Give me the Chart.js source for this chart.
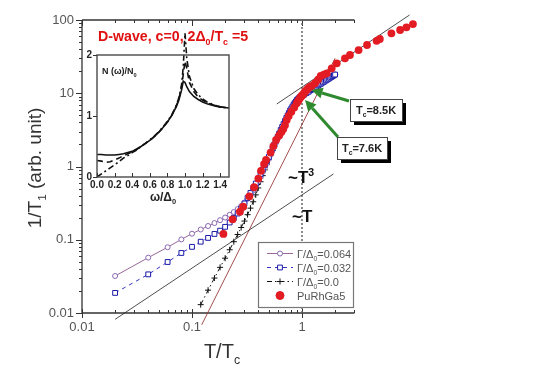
<!DOCTYPE html>
<html>
<head>
<meta charset="utf-8">
<script src="https://cdn.jsdelivr.net/npm/chart.js@4.4.1/dist/chart.umd.min.js"></script>
<style>
  html, body { margin: 0; padding: 0; background: #fff; }
  #wrap { position: relative; width: 545px; height: 391px; }
  #main { position: absolute; left: 0; top: 0; }
  #inset { position: absolute; left: 70px; top: 20px; }
</style>
</head>
<body>
<div id="wrap">
  <canvas id="main" width="545" height="391"></canvas>
  <canvas id="inset" width="170" height="190"></canvas>
</div>
<script>
// ---- main plot data: 1/T1 vs T/Tc ----
const tTheory = [0.02,0.04,0.06,0.08,0.10,0.12,0.14,0.16,0.18,0.20,
  0.22,0.24,0.26,0.28,0.30,0.32,0.34,0.36,0.38,0.40,
  0.42,0.44,0.46,0.48,0.50,0.52,0.54,0.56,0.58,0.60,
  0.62,0.64,0.66,0.68,0.70,0.72,0.74,0.76,0.78,0.80,
  0.82,0.84,0.86,0.88,0.90,0.92,0.94,0.96,0.98,1.00,
  1.05,1.10,1.15,1.20,1.25,1.30,1.35,1.40,1.45,1.50,
  1.55,1.60,1.65,1.70,1.75,1.80,1.85,1.90,1.95,2.00];

const rate064 = [0.032,0.057,0.079,0.101,0.121,0.138,0.154,0.169,0.185,0.201,
  0.219,0.239,0.262,0.289,0.322,0.362,0.41,0.468,0.54,0.625,
  0.725,0.84,0.97,1.11,1.27,1.45,1.65,1.87,2.11,2.37,
  2.65,2.95,3.26,3.59,3.95,4.33,4.71,5.1,5.5,5.9,
  6.3,6.7,7.07,7.43,7.78,8.1,8.4,8.68,8.93,9.15,
  9.55,10.0,10.4,10.9,11.3,11.8,12.2,12.7,13.1,13.5,
  14.0,14.4,14.9,15.3,15.7,16.2,16.6,17.0,17.5,17.9];

const rate032 = [0.0188,0.0337,0.0497,0.066,0.080,0.094,0.106,0.120,0.133,0.150,
  0.172,0.198,0.228,0.267,0.313,0.372,0.435,0.504,0.586,0.675,
  0.79,0.91,1.05,1.19,1.35,1.55,1.76,2.0,2.26,2.53,
  2.82,3.15,3.46,3.80,4.18,4.59,4.97,5.37,5.82,6.19,
  6.59,7.02,7.36,7.71,8.09,8.35,8.61,8.89,9.03,9.17,
  9.6,10.1,10.5,11.0,11.4,11.9,12.3,12.8,13.2,13.6,
  14.1,14.5,15.0,15.4,15.8,16.3,16.7,17.1,17.6,18.0];

// clean d-wave curve starts at T/Tc = 0.12
const tClean = tTheory.slice(5);
const rateClean = [0.013,0.0205,0.030,0.042,0.056,0.073,0.094,0.118,0.147,0.18,
  0.22,0.27,0.33,0.41,0.51,0.62,0.75,0.90,1.06,1.24,
  1.44,1.66,1.90,2.16,2.44,2.74,3.06,3.4,3.76,4.14,
  4.54,4.94,5.35,5.78,6.18,6.59,7.0,7.37,7.73,8.1,
  8.37,8.63,8.9,9.05,9.2,
  9.6,10.1,10.5,11.0,11.4,11.9,12.3,12.8,13.2,13.6,
  14.1,14.5,15.0,15.4,15.8,16.3,16.7,17.1,17.6,18.0];

// PuRhGa5 measured points
const redT = [0.193,0.234,0.273,0.292,0.332,0.367,0.401,0.424,0.452,0.471,
  0.518,0.55,0.581,0.62,0.65,0.676,0.70,0.726,0.757,0.80,
  0.85,0.895,0.92,0.944,0.97,0.99,1.014,1.035,1.064,1.10,
  1.141,1.18,1.225,1.313,1.40,1.479,1.58,1.679,1.862,2.07,
  2.46,2.73,3.27,3.9,4.77,5.1,6.5,7.8,8.9,10.2];
const redRate = [0.12,0.19,0.241,0.283,0.392,0.521,0.684,0.873,1.08,1.23,
  1.55,1.9,2.3,2.65,2.95,3.25,3.65,4.3,4.9,5.6,
  6.4,7.3,7.8,8.27,8.8,9.2,9.46,9.9,10.5,11.1,
  11.7,12.2,12.6,13.7,15.3,17.2,18.0,18.7,21.9,25.6,
  30,33.3,38.9,45.6,52,55,65.8,73,79.5,88];

// guide lines
const linT = [0.02, 1.93], linRate = [0.0082, 0.79];      // ~T
const cubT = [0.1225, 2.0], cubRate = [0.0069, 30];      // ~T^3
const normT = [0.589, 9.5], normRate = [7.13, 117];      // normal state
const tcT = [1, 1], tcRate = [0.01, 100];

const xTicks = [0.01, 0.1, 1];
const yTicks = [0.01, 0.1, 1, 10, 100];
const xAxisEnd = 3;     // drawn axes stop here, the red data run past it

// ---- inset data: N(w)/N0 vs w/D0 ----
const omega = [0,0.05,0.1,0.15,0.2,0.25,0.3,0.35,0.4,0.45,0.5,0.55,0.6,0.65,0.7,0.75,0.8,0.85,0.9,
  0.93,0.96,0.98,1.0,1.02,1.05,1.1,1.15,1.2,1.25,1.3,1.35,1.4,1.45,1.5];
const dos064 = [0.37,0.37,0.36,0.36,0.36,0.37,0.38,0.40,0.42,0.46,0.50,0.55,0.60,0.66,0.73,0.81,0.90,1.01,1.15,
  1.26,1.42,1.57,1.55,1.48,1.40,1.32,1.27,1.23,1.20,1.18,1.16,1.15,1.14,1.13];
const dos032 = [0.27,0.26,0.24,0.25,0.28,0.31,0.35,0.38,0.41,0.45,0.50,0.55,0.60,0.66,0.73,0.81,0.90,1.01,1.16,
  1.28,1.47,1.68,1.90,1.78,1.55,1.40,1.31,1.26,1.22,1.19,1.17,1.15,1.14,1.13];
const dos0 = [0.0,0.05,0.10,0.15,0.20,0.25,0.31,0.35,0.40,0.44,0.50,0.55,0.61,0.67,0.74,0.82,0.91,1.02,1.17,
  1.30,1.50,1.80,2.36,1.95,1.65,1.45,1.35,1.28,1.23,1.20,1.17,1.15,1.14,1.13];
const omegaTicks = [0, 0.2, 0.4, 0.6, 0.8, 1.0, 1.2, 1.4];
const dosTicks = [0, 1, 2];

const FONT = '"Liberation Sans", Arial, sans-serif';
Chart.defaults.font.family = FONT;

const xy = (xs, ys) => xs.map((x, i) => ({ x: x, y: ys[i] }));

function rich(ctx, parts, x, y, size, weight, color, align) {
  const f = s => weight + ' ' + s + 'px ' + FONT;
  let w = 0;
  for (const [t, k] of parts) { ctx.font = f(k ? size * 0.62 : size); w += ctx.measureText(t).width; }
  let cx = align === 'center' ? x - w / 2 : align === 'right' ? x - w : x;
  ctx.fillStyle = color;
  ctx.textAlign = 'left';
  ctx.textBaseline = 'alphabetic';
  for (const [t, k] of parts) {
    ctx.font = f(k ? size * 0.62 : size);
    const dy = k === 'sub' ? size * 0.28 : k === 'sup' ? -size * 0.42 : 0;
    ctx.fillText(t, cx, y + dy);
    cx += ctx.measureText(t).width;
  }
}

function arrow(ctx, x0, y0, x1, y1) {
  const a = Math.atan2(y1 - y0, x1 - x0);
  const head = 11, hw = 5.5;
  const bx = x1 - head * Math.cos(a), by = y1 - head * Math.sin(a);
  ctx.beginPath(); ctx.moveTo(x0, y0); ctx.lineTo(bx, by); ctx.stroke();
  ctx.beginPath(); ctx.moveTo(x1, y1);
  ctx.lineTo(bx + hw * Math.sin(a), by - hw * Math.cos(a));
  ctx.lineTo(bx - hw * Math.sin(a), by + hw * Math.cos(a));
  ctx.closePath(); ctx.fill();
}

function shadowBox(ctx, x, y, w, h, parts) {
  ctx.fillStyle = '#000';
  ctx.fillRect(x + 4, y + 4, w, h);
  ctx.fillStyle = '#fff';
  ctx.fillRect(x, y, w, h);
  ctx.strokeStyle = '#444';
  ctx.lineWidth = 1;
  ctx.strokeRect(x + 0.5, y + 0.5, w, h);
  rich(ctx, parts, x + w / 2, y + h / 2 + 4, 11, 'bold', '#222', 'center');
}

const legendRows = [
  { parts: [['Γ/Δ', ''], ['0', 'sub'], ['=0.064', '']], line: '#98689a', dash: [], style: 'circle', r: 2.5, mk: '#8a66b0', fill: '#fff' },
  { parts: [['Γ/Δ', ''], ['0', 'sub'], ['=0.032', '']], line: '#3535c0', dash: [4, 4], style: 'rect', r: 3.4, mk: '#1a1aa8', fill: '#fff' },
  { parts: [['Γ/Δ', ''], ['0', 'sub'], ['=0.0', '']], line: '#111', dash: [5, 3, 1.5, 3], style: 'cross', r: 3, mk: '#111', fill: '#111' },
  { parts: [['PuRhGa5', '']], line: null, style: 'circle', r: 4, mk: '#e31b23', fill: '#e31b23' }
];

const mainDecor = {
  id: 'mainDecor',
  beforeDatasetsDraw(chart) {
    const { ctx, chartArea: a, scales: { x, y } } = chart;
    const right = x.getPixelForValue(xAxisEnd);
    ctx.save();
    ctx.strokeStyle = '#333';
    ctx.lineWidth = 1.3;
    ctx.beginPath();
    ctx.moveTo(a.left, a.top); ctx.lineTo(right, a.top);
    ctx.moveTo(a.left, a.top); ctx.lineTo(a.left, a.bottom); ctx.lineTo(right, a.bottom);
    ctx.stroke();
    ctx.lineWidth = 1;
    ctx.beginPath();
    for (const d of yTicks) {
      for (let m = 1; m < 10; m++) {
        const v = d * m;
        if (v > 100.001) break;
        const py = Math.round(y.getPixelForValue(v)) + 0.5;
        ctx.moveTo(a.left, py); ctx.lineTo(a.left - (m === 1 ? 6 : 3), py);
      }
    }
    for (const d of xTicks) {
      for (let m = 1; m < 10; m++) {
        const v = d * m;
        if (v > xAxisEnd + 0.001) break;
        const px = Math.round(x.getPixelForValue(v)) + 0.5;
        if (m === 1) {
          ctx.moveTo(px, a.bottom + 5); ctx.lineTo(px, a.bottom - 4);
          ctx.moveTo(px, a.top); ctx.lineTo(px, a.top + 6);
        } else {
          ctx.moveTo(px, a.bottom); ctx.lineTo(px, a.bottom - 3);
          ctx.moveTo(px, a.top); ctx.lineTo(px, a.top + 3);
        }
      }
    }
    ctx.stroke();
    ctx.restore();
  },
  afterDatasetsDraw(chart) {
    const { ctx, chartArea: a, scales: { x, y } } = chart;
    ctx.save();
    // tick labels
    ctx.fillStyle = '#555';
    ctx.font = '13px ' + FONT;
    ctx.textAlign = 'right';
    ctx.textBaseline = 'middle';
    for (const v of yTicks) ctx.fillText(String(v), a.left - 8, y.getPixelForValue(v));
    ctx.textAlign = 'center';
    ctx.textBaseline = 'top';
    for (const v of xTicks) ctx.fillText(String(v), x.getPixelForValue(v), a.bottom + 8);
    // axis titles
    rich(ctx, [['T/T', ''], ['c', 'sub']], 222, 358, 20, 'normal', '#333', 'center');
    ctx.save();
    ctx.translate(41, 168);
    ctx.rotate(-Math.PI / 2);
    rich(ctx, [['1/T', ''], ['1', 'sub'], [' (arb. unit)', '']], 0, 0, 19, 'normal', '#333', 'center');
    ctx.restore();
    // title
    rich(ctx, [['D-wave, c=0, 2Δ', ''], ['0', 'sub'], ['/T', ''], ['c', 'sub'], [' =5', '']], 98, 41, 14.2, 'bold', '#e01010', 'left');
    // slope labels
    rich(ctx, [['~T', ''], ['3', 'sup']], 288, 183, 17, 'bold', '#111', 'left');
    rich(ctx, [['~T', '']], 292, 222, 17, 'bold', '#111', 'left');
    // legend
    const lx = 258, ly = 242, lw = 95, lh = 65;
    ctx.fillStyle = '#fff';
    ctx.fillRect(lx, ly, lw, lh);
    ctx.strokeStyle = '#777';
    ctx.lineWidth = 1.2;
    ctx.strokeRect(lx + 0.5, ly + 0.5, lw, lh);
    legendRows.forEach((r, i) => {
      const ry = 253.5 + i * 14;
      if (r.line) {
        ctx.strokeStyle = r.line;
        ctx.lineWidth = 1;
        ctx.setLineDash(r.dash);
        ctx.beginPath(); ctx.moveTo(267, ry); ctx.lineTo(293, ry); ctx.stroke();
        ctx.setLineDash([]);
      }
      ctx.fillStyle = r.fill;
      ctx.strokeStyle = r.mk;
      ctx.lineWidth = 1;
      Chart.helpers.drawPoint(ctx, { pointStyle: r.style, radius: r.r, rotation: 0, borderWidth: 1 }, 280, ry);
      rich(ctx, r.parts, 297, ry + 4, 11, 'normal', '#555', 'left');
    });
    // Tc annotations
    const tip1x = x.getPixelForValue(1.22), tip1y = y.getPixelForValue(11.1);
    const tip2x = x.getPixelForValue(1.065), tip2y = y.getPixelForValue(8.1);
    ctx.strokeStyle = '#2f8a2f';
    ctx.fillStyle = '#2f8a2f';
    ctx.lineWidth = 3;
    arrow(ctx, 349, 101, tip1x, tip1y);
    arrow(ctx, 338, 137, tip2x, tip2y);
    shadowBox(ctx, 350, 99, 52, 22, [['T', ''], ['c', 'sub'], ['=8.5K', '']]);
    shadowBox(ctx, 337, 137, 50, 22, [['T', ''], ['c', 'sub'], ['=7.6K', '']]);
    ctx.restore();
  }
};

const over = { clip: false, showLine: true, tension: 0 };

new Chart(document.getElementById('main'), {
  type: 'scatter',
  data: {
    datasets: [
      { ...over, label: 'PuRhGa5', data: xy(redT, redRate), showLine: false,
        pointStyle: 'circle', pointRadius: 3.9, pointBackgroundColor: '#e31b23', pointBorderColor: '#e31b23', pointBorderWidth: 0 },
      { ...over, label: 'Γ/Δ0=0.032', data: xy(tTheory, rate032), borderColor: '#3535c0', borderWidth: 1, borderDash: [4, 4],
        pointStyle: 'rect', pointRadius: 3.4, pointBorderColor: '#1a1aa8', pointBackgroundColor: '#fff', pointBorderWidth: 1 },
      { ...over, label: 'Γ/Δ0=0.064', data: xy(tTheory, rate064), borderColor: '#98689a', borderWidth: 1,
        pointStyle: 'circle', pointRadius: 2.5, pointBorderColor: '#8a66b0', pointBackgroundColor: '#fff', pointBorderWidth: 1 },
      { ...over, label: 'Γ/Δ0=0.0', data: xy(tClean, rateClean), borderColor: '#111', borderWidth: 1, borderDash: [5, 3, 1.5, 3],
        pointStyle: 'cross', pointRadius: 3, pointBorderColor: '#111', pointBorderWidth: 1 },
      { ...over, label: '~T', data: xy(linT, linRate), borderColor: '#222', borderWidth: 0.8, pointRadius: 0 },
      { ...over, label: '~T3', data: xy(cubT, cubRate), borderColor: '#9a3a3a', borderWidth: 0.9, pointRadius: 0 },
      { ...over, label: 'normal', data: xy(normT, normRate), borderColor: '#222', borderWidth: 0.8, pointRadius: 0 },
      { ...over, label: 'Tc', data: xy(tcT, tcRate), borderColor: '#666', borderWidth: 1.5, borderDash: [2, 2], pointRadius: 0 }
    ]
  },
  options: {
    responsive: false,
    animation: false,
    devicePixelRatio: 1,
    events: [],
    // plot area runs on to T/Tc ~ 12.6 so the high-T points are drawn; axes stop at 3
    layout: { padding: { left: 82, top: 20, right: 122, bottom: 78 } },
    plugins: { legend: { display: false }, tooltip: { enabled: false } },
    scales: {
      x: { type: 'logarithmic', display: false, bounds: 'data', afterDataLimits: s => { s.min = 0.01; s.max = 12.59; } },
      y: { type: 'logarithmic', display: false, bounds: 'data', afterDataLimits: s => { s.min = 0.01; s.max = 100; } }
    }
  },
  plugins: [mainDecor]
});

const insetDecor = {
  id: 'insetDecor',
  beforeDatasetsDraw(chart) {
    const { ctx, chartArea: a } = chart;
    ctx.save();
    ctx.fillStyle = '#fff';
    ctx.fillRect(a.left, a.top, a.right - a.left, a.bottom - a.top);
    ctx.restore();
  },
  afterDatasetsDraw(chart) {
    const { ctx, chartArea: a, scales: { x, y } } = chart;
    ctx.save();
    ctx.strokeStyle = '#555';
    ctx.lineWidth = 1.5;
    ctx.strokeRect(a.left, a.top, a.right - a.left, a.bottom - a.top);
    ctx.lineWidth = 1;
    ctx.strokeStyle = '#333';
    ctx.beginPath();
    for (const v of omegaTicks) {
      const px = Math.round(x.getPixelForValue(v)) + 0.5;
      ctx.moveTo(px, a.bottom); ctx.lineTo(px, a.bottom - 4);
    }
    for (const v of dosTicks) {
      const py = Math.round(y.getPixelForValue(v)) + 0.5;
      ctx.moveTo(a.left, py); ctx.lineTo(a.left - 4, py);
    }
    ctx.stroke();
    ctx.fillStyle = '#222';
    ctx.font = 'bold 10px ' + FONT;
    ctx.textAlign = 'center';
    ctx.textBaseline = 'top';
    for (const v of omegaTicks) ctx.fillText(v.toFixed(1), x.getPixelForValue(v), a.bottom + 3);
    ctx.textAlign = 'right';
    ctx.textBaseline = 'middle';
    for (const v of dosTicks) ctx.fillText(String(v), a.left - 5, y.getPixelForValue(v));
    rich(ctx, [['ω/Δ', ''], ['0', 'sub']], (a.left + a.right) / 2, a.bottom + 24, 12, 'bold', '#222', 'center');
    rich(ctx, [['N (ω)/N', ''], ['0', 'sub']], a.left + 5, a.top + 19, 9, 'bold', '#222', 'left');
    ctx.restore();
  }
};

new Chart(document.getElementById('inset'), {
  type: 'scatter',
  data: {
    datasets: [
      { label: 'Γ/Δ0=0.064', data: xy(omega, dos064), showLine: true, borderColor: '#111', borderWidth: 1.6, pointRadius: 0, clip: false },
      { label: 'Γ/Δ0=0.032', data: xy(omega, dos032), showLine: true, borderColor: '#111', borderWidth: 1.6, borderDash: [6, 4], pointRadius: 0, clip: false },
      { label: 'Γ/Δ0=0.0', data: xy(omega, dos0), showLine: true, borderColor: '#111', borderWidth: 1.6, borderDash: [6, 3, 2, 3], pointRadius: 0, clip: false }
    ]
  },
  options: {
    responsive: false,
    animation: false,
    devicePixelRatio: 1,
    events: [],
    layout: { padding: { left: 27, top: 35, right: 11, bottom: 33 } },
    plugins: { legend: { display: false }, tooltip: { enabled: false } },
    scales: {
      x: { type: 'linear', display: false, bounds: 'data', afterDataLimits: s => { s.min = 0; s.max = 1.5; } },
      y: { type: 'linear', display: false, bounds: 'data', afterDataLimits: s => { s.min = 0; s.max = 2; } }
    }
  },
  plugins: [insetDecor]
});
</script>
</body>
</html>
